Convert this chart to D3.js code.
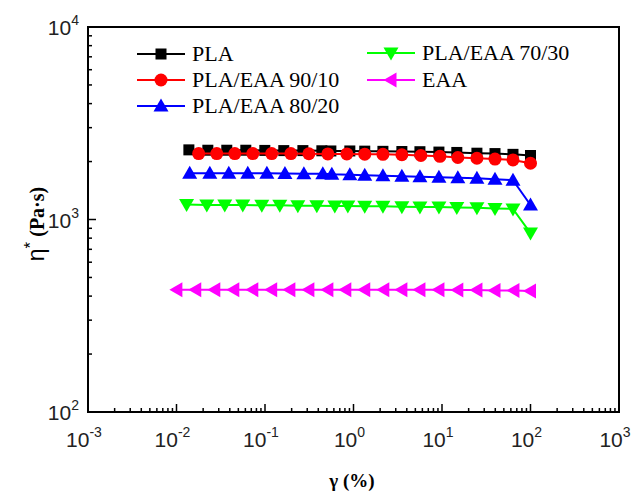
<!DOCTYPE html>
<meta charset="utf-8">
<style>
body { margin: 0; background: #fff; }
text { font-family: "Liberation Sans", Arial, sans-serif; }
.tick-lab { font-size: 21px; fill: #222; }
.serif { font-family: "Liberation Serif", "Times New Roman", serif; }
.leg { font-family: "Liberation Serif", "Times New Roman", serif; font-size: 22px; }
</style>
<svg width="638" height="496"></svg>
<script src="https://d3js.org/d3.v7.min.js"></script>
<script>

// strain sweep data
var plaX = [0.0138, 0.0226, 0.037, 0.0607, 0.0995, 0.163, 0.268, 0.439, 0.555, 0.909, 1.34, 2.15, 3.52, 5.63, 9.23, 14.7, 24.8, 39.7, 63.4, 100];
var plaY = [2300, 2290, 2290, 2290, 2285, 2280, 2280, 2275, 2270, 2270, 2265, 2260, 2255, 2250, 2240, 2230, 2210, 2200, 2180, 2150];

var p90X = [0.0178, 0.0285, 0.0456, 0.0728, 0.119, 0.196, 0.313, 0.513, 0.841, 1.34, 2.15, 3.52, 5.77, 9.47, 15.1, 24.8, 39.7, 63.4, 100];
var p90Y = [2200, 2200, 2200, 2200, 2200, 2200, 2195, 2190, 2190, 2185, 2180, 2170, 2150, 2130, 2100, 2080, 2060, 2040, 1960];

var p80X = [0.0141, 0.0238, 0.039, 0.0639, 0.105, 0.168, 0.275, 0.45, 0.569, 0.909, 1.34, 2.15, 3.52, 5.63, 9.23, 15.1, 24.8, 39.7, 63.4, 100];
var p80Y = [1740, 1740, 1740, 1740, 1740, 1735, 1730, 1730, 1720, 1710, 1700, 1690, 1680, 1670, 1660, 1650, 1640, 1620, 1600, 1190];

var p70X = [0.013, 0.022, 0.0351, 0.0561, 0.092, 0.147, 0.235, 0.385, 0.615, 0.863, 1.34, 2.15, 3.52, 5.63, 9.23, 14.7, 24.8, 39.7, 63.4, 100];
var p70Y = [1195, 1190, 1190, 1190, 1185, 1185, 1180, 1180, 1175, 1175, 1170, 1170, 1165, 1160, 1160, 1155, 1150, 1140, 1135, 850];

var eaaX = [0.0101, 0.0165, 0.0271, 0.0444, 0.0728, 0.119, 0.191, 0.313, 0.513, 0.819, 1.34, 2.2, 3.52, 5.63, 9.23, 15.1, 24.8, 39.7, 65, 100];
var eaaY = [432, 432, 432, 432, 432, 432, 432, 432, 432, 432, 432, 432, 432, 432, 432, 430, 430, 428, 428, 425];

var names = ["PLA", "PLA/EAA 90/10", "PLA/EAA 80/20", "PLA/EAA 70/30", "EAA"];
var colors = ["#000000", "#ff0000", "#0000ff", "#00ff00", "#ff00ff"];
var markers = ["square", "circle", "up", "down", "left"];

var xTicks = [1e-3, 1e-2, 1e-1, 1, 10, 100, 1000];
var yTicks = [100, 1000, 10000];

var series = [
  {xs: plaX, ys: plaY},
  {xs: p90X, ys: p90Y},
  {xs: p80X, ys: p80Y},
  {xs: p70X, ys: p70Y},
  {xs: eaaX, ys: eaaY}
];

var svg = d3.select("svg"),
    m = {left: 88, right: 619, top: 27, bottom: 412};

var x = d3.scaleLog().domain([1e-3, 1e3]).range([m.left, m.right]);
var y = d3.scaleLog().domain([100, 1e4]).range([m.bottom, m.top]);

// minor ticks
function minors(lo, hi) {
  var out = [];
  for (var d = lo; d < hi; d *= 10)
    for (var k = 2; k < 10; k++) out.push(d * k);
  return out;
}

var g = svg.append("g").attr("stroke", "#000").attr("stroke-width", 1.5);

g.selectAll(".xmaj").data(xTicks).enter().append("line")
    .attr("x1", function(d) { return x(d); }).attr("x2", function(d) { return x(d); })
    .attr("y1", m.bottom).attr("y2", m.bottom - 8);
g.selectAll(".xmin").data(minors(1e-3, 1e3)).enter().append("line")
    .attr("x1", function(d) { return x(d); }).attr("x2", function(d) { return x(d); })
    .attr("y1", m.bottom).attr("y2", m.bottom - 4);
g.selectAll(".ymaj").data(yTicks).enter().append("line")
    .attr("y1", function(d) { return y(d); }).attr("y2", function(d) { return y(d); })
    .attr("x1", m.left).attr("x2", m.left + 8);
g.selectAll(".ymin").data(minors(100, 1e4)).enter().append("line")
    .attr("y1", function(d) { return y(d); }).attr("y2", function(d) { return y(d); })
    .attr("x1", m.left).attr("x2", m.left + 4);

svg.append("rect")
    .attr("x", m.left).attr("y", m.top)
    .attr("width", m.right - m.left).attr("height", m.bottom - m.top)
    .attr("fill", "none").attr("stroke", "#000").attr("stroke-width", 2);

// tick labels
xTicks.forEach(function(d) {
  var t = svg.append("text").attr("class", "tick-lab")
      .attr("x", x(d) - 4).attr("y", 447).attr("text-anchor", "middle");
  t.append("tspan").text("10");
  t.append("tspan").attr("font-size", 14).attr("dy", -10).text(Math.round(Math.log10(d)));
});
yTicks.forEach(function(d) {
  var t = svg.append("text").attr("class", "tick-lab")
      .attr("x", 79).attr("y", y(d) + 8).attr("text-anchor", "end");
  t.append("tspan").text("10");
  t.append("tspan").attr("font-size", 14).attr("dy", -10).text(Math.round(Math.log10(d)));
});

// axis titles
svg.append("text").attr("class", "serif")
    .attr("x", 352).attr("y", 487).attr("text-anchor", "middle")
    .attr("font-weight", "bold").attr("font-size", 19).text("γ (%)");

var yl = svg.append("text")
    .attr("transform", "translate(44,224) rotate(-90)")
    .attr("text-anchor", "middle");
yl.append("tspan").attr("font-size", 23).text("η");
yl.append("tspan").attr("font-size", 17).attr("dy", -8).text("*");
yl.append("tspan").attr("class", "serif").attr("dy", 8)
    .attr("font-weight", "bold").attr("font-size", 20).text(" (Pa·s)");

function drawMarker(sel, type, color) {
  if (type === "square") {
    sel.append("rect").attr("x", -5.5).attr("y", -5.5).attr("width", 11).attr("height", 11).attr("fill", color);
  } else if (type === "circle") {
    sel.append("circle").attr("r", 6.5).attr("fill", color);
  } else {
    var pts = {
      up: "0,-7.5 -7.5,5.5 7.5,5.5",
      down: "0,7.5 -7.5,-5.5 7.5,-5.5",
      left: "-7.5,0 5.5,-7.5 5.5,7.5"
    }[type];
    sel.append("polygon").attr("points", pts).attr("fill", color);
  }
}

var line = d3.line()
    .x(function(d) { return x(d[0]); })
    .y(function(d) { return y(d[1]); });

series.forEach(function(s, i) {
  var pts = d3.zip(s.xs, s.ys);
  svg.append("path").datum(pts)
      .attr("d", line)
      .attr("fill", "none").attr("stroke", colors[i]).attr("stroke-width", 2);
  svg.selectAll(".m" + i).data(pts).enter().append("g")
      .attr("transform", function(d) { return "translate(" + x(d[0]) + "," + y(d[1]) + ")"; })
      .each(function() { drawMarker(d3.select(this), markers[i], colors[i]); });
});

// legend
var legPos = [[137, 54], [137, 80], [137, 106], [367, 53], [367, 80]];
names.forEach(function(n, i) {
  var lx = legPos[i][0], ly = legPos[i][1];
  var lg = svg.append("g").attr("transform", "translate(" + lx + "," + ly + ")");
  lg.append("line").attr("x1", 0).attr("x2", 48).attr("stroke", colors[i]).attr("stroke-width", 2);
  drawMarker(lg.append("g").attr("transform", "translate(24,0)"), markers[i], colors[i]);
  lg.append("text").attr("class", "leg").attr("x", 55).attr("y", 7).text(n);
});

</script>
